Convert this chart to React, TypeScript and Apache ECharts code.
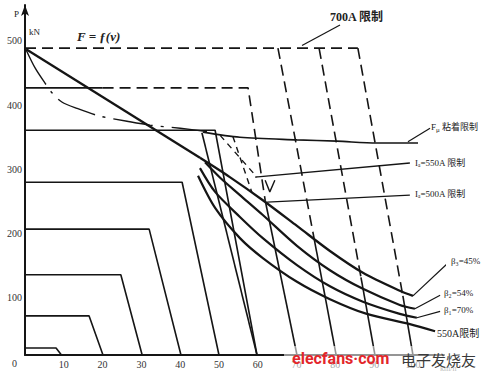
import React, { useEffect, useRef } from "react";
import * as echarts from "echarts";

// axis
const xTickValues = [10, 20, 30, 40, 50, 60, 70, 80, 90, 100];
const yTickValues = [100, 200, 300, 400, 500];

// notch characteristics (v km/h, F kN)
const notch1 = [[0, 11], [8, 11], [9.4, 0]];
const notch2 = [[0, 61], [16.5, 61], [20.1, 0]];
const notch3 = [[0, 125], [24.7, 125], [30.2, 0]];
const notch4 = [[0, 196], [32, 196], [40.2, 0]];
const notch5 = [[0, 269], [40.5, 269], [50, 0]];
const notch6 = [[0, 350], [49, 350], [59.8, 0]];
const notch6b = [[45.6, 346], [59.8, 0]];
const notch7Solid = [[0, 416], [20, 416]];
const notch7Dashed = [[20, 416], [57.5, 416], [61.9, 241]];
const notch7Lower = [[61.9, 241], [70.1, 0]];

// 700A limit
const limit700Top = [[0, 478], [85.8, 478]];
const limit700v80Dashed = [[65.2, 478], [74.5, 182]];
const limit700v80Solid = [[74.5, 182], [80.2, 0]];
const limit700v90Dashed = [[75.8, 478], [86.6, 121]];
const limit700v90Solid = [[86.6, 121], [90.2, 0]];
const limit700v100Dashed = [[85.8, 478], [97.4, 92]];
const limit700v100Solid = [[97.4, 92], [100, 0]];

// F = f(v) envelope and field-weakening curves
const envelope = [[0.3, 476], [45.1, 307]];
const beta3 = [[45.1, 307], [52.8, 277], [61.3, 241], [70.1, 201], [78.6, 162], [87.1, 128], [96.6, 100], [100, 92]];
const beta2 = [[46.4, 300], [50.3, 276], [55.4, 249], [61.3, 218], [70.1, 170], [78.6, 132], [87.1, 103], [96.6, 78], [100.5, 72]];
const beta1 = [[45.1, 291], [49, 254], [55.4, 215], [61.3, 182], [70.1, 140], [78.6, 107], [87.1, 83], [96.6, 64], [101, 58]];
const limit550 = [[44.6, 279], [49, 229], [55.4, 182], [61.3, 151], [70.1, 114], [78.6, 87], [88.1, 64], [99.2, 48], [105.7, 37]];

// adhesion limit
const adhesionDashDot = [[0.3, 475], [2.6, 447], [5.2, 423], [7, 408], [9.5, 394], [13.4, 384], [19.3, 372], [26.3, 364], [32.2, 358], [40, 353], [46.9, 348]];
const adhesionSolid = [[45.9, 347], [55.4, 339], [70.1, 335], [80.4, 333], [90.7, 330], [101.3, 330]];

// current limits
const ia550 = [[59.3, 277], [99.2, 299]];
const ia500 = [[62.4, 238], [99.2, 249]];
const ia550Dashed = [[50.3, 342], [59.8, 277]];
const extraDashed = [[53.6, 340], [58.5, 253]];
const vMark = [[61.9, 272], [63.1, 254], [64.4, 272]];

// leaders
const leader700 = [[71.4, 482], [81.2, 514]];
const leaderAdhesion = [[98.7, 332], [104.4, 353]];
const leaderBeta3 = [[100, 92], [109, 143]];
const leaderBeta2 = [[100.5, 72], [107, 93]];
const leaderBeta1 = [[101, 58], [107, 68]];

const INK = "#151515";
const SERIF = "'Liberation Serif', 'DejaVu Serif', 'Noto Sans CJK SC', serif";
const CJK = "'Liberation Serif', 'Noto Sans CJK SC', serif";

function seg(data: number[][], width: number, dashed: any = "solid", smooth: number | boolean = false) {
  return {
    type: "line",
    data,
    showSymbol: false,
    symbol: "none",
    smooth,
    clip: false,
    silent: true,
    lineStyle: { color: INK, width, type: dashed, cap: "butt" },
    z: 3,
  };
}

const DASH = [11, 6];

export default function App() {
  const ref = useRef<HTMLDivElement>(null);
  useEffect(() => {
    if (!ref.current) return;
    const chart = echarts.init(ref.current, undefined, { renderer: "svg" });
    const txt = (x: number, y: number, text: string, extra: any = {}) => ({
      type: "text",
      x,
      y,
      z: 10,
      style: {
        text,
        fill: "#222",
        fontSize: 9,
        fontFamily: CJK,
        align: "left",
        verticalAlign: "middle",
        ...extra,
      },
    });
    chart.setOption({
      animation: false,
      backgroundColor: "#ffffff",
      grid: { left: 25, right: 52, top: 5, bottom: 23 },
      xAxis: {
        type: "value",
        min: 0,
        max: 108,
        interval: 10,
        axisLine: { lineStyle: { color: INK, width: 2 } },
        axisTick: { show: false },
        splitLine: { show: false },
        axisLabel: {
          margin: 4,
          fontSize: 10,
          fontFamily: SERIF,
          color: "#333",
          formatter: (v: number) => (xTickValues.includes(v) ? String(v) : ""),
        },
      },
      yAxis: {
        type: "value",
        min: 0,
        max: 545,
        interval: 100,
        axisLine: {
          show: true,
          symbol: ["none", "arrow"],
          symbolSize: [6, 11],
          lineStyle: { color: INK, width: 2 },
        },
        axisTick: { show: false },
        splitLine: { show: false },
        axisLabel: {
          margin: 3,
          fontSize: 10,
          fontFamily: SERIF,
          color: "#333",
          verticalAlign: "top",
          padding: [2, 0, 0, 0],
          formatter: (v: number) => (yTickValues.includes(v) ? String(v) : ""),
        },
      },
      series: [
        seg(notch1, 1.6),
        seg(notch2, 1.6),
        seg(notch3, 1.6),
        seg(notch4, 1.6),
        seg(notch5, 1.6),
        seg(notch6, 1.6),
        seg(notch6b, 1.6),
        seg(notch7Solid, 1.6),
        seg(notch7Dashed, 1.6, DASH),
        seg(notch7Lower, 1.6),
        seg(limit700Top, 1.8, DASH),
        seg(limit700v80Dashed, 1.6, DASH),
        seg(limit700v80Solid, 1.6),
        seg(limit700v90Dashed, 1.6, DASH),
        seg(limit700v90Solid, 1.6),
        seg(limit700v100Dashed, 1.6, DASH),
        seg(limit700v100Solid, 1.6),
        seg(envelope, 2.3),
        seg(beta3, 2.3, "solid", 0.3),
        seg(beta2, 2.2, "solid", 0.3),
        seg(beta1, 2.2, "solid", 0.3),
        seg(limit550, 2.2, "solid", 0.3),
        seg(adhesionDashDot, 1.4, [40, 8, 3, 8], 0.3),
        seg(adhesionSolid, 1.6, "solid", 0.3),
        seg(ia550, 1.4),
        seg(ia500, 1.4),
        seg(ia550Dashed, 1.4, [6, 5]),
        seg(extraDashed, 1.4, [6, 5]),
        seg(vMark, 1.4),
        seg(leader700, 1.2),
        seg(leaderAdhesion, 1.2),
        seg(leaderBeta3, 1.2),
        seg(leaderBeta2, 1.2),
        seg(leaderBeta1, 1.2),
      ],
      graphic: [
        txt(14, 14, "P", { fontSize: 9, fontFamily: SERIF }),
        txt(29, 32, "kN", { fontSize: 9, fontFamily: SERIF }),
        txt(12, 363, "0", { fontSize: 10, fontFamily: SERIF, fill: "#333" }),
        txt(77, 36, "F = ƒ(v)", { fontSize: 13, fontStyle: "italic", fontWeight: "bold", fontFamily: SERIF }),
        txt(330, 17, "700A 限制", { fontSize: 12, fontWeight: "bold" }),
        {
          type: "text",
          x: 431,
          y: 127,
          z: 10,
          style: {
            text: "{f|F}{s|μ} 粘着限制",
            fill: "#222",
            fontSize: 9,
            fontFamily: CJK,
            verticalAlign: "middle",
            rich: {
              f: { fontSize: 9, fontFamily: SERIF },
              s: { fontSize: 7, fontFamily: SERIF, padding: [6, 0, 0, 0] },
            },
          },
        },
        txt(415, 163, "Iₐ=550A 限制"),
        txt(415, 194, "Iₐ=500A 限制"),
        txt(451, 261, "β₃=45%"),
        txt(444, 293, "β₂=54%"),
        txt(444, 310, "β₁=70%"),
        txt(437, 333, "550A限制", { fontSize: 10 }),
        txt(440, 368, "km/h", { fontSize: 8, fontFamily: SERIF, fill: "#666" }),
        {
          type: "rect",
          z: 20,
          shape: { x: 284, y: 346, width: 202, height: 26 },
          style: { fill: "rgba(255,255,255,0.55)" },
        },
        {
          type: "text",
          x: 292,
          y: 358,
          z: 21,
          style: {
            text: "elecfans·com",
            fill: "#e3262b",
            fontSize: 16,
            fontWeight: "bold",
            fontFamily: "Roboto, 'Noto Sans', sans-serif",
            verticalAlign: "middle",
          },
        },
        {
          type: "text",
          x: 401,
          y: 359,
          z: 21,
          style: {
            text: "电子发烧友",
            fill: "#3a3a3a",
            fontSize: 15,
            fontFamily: "'Noto Sans CJK SC', sans-serif",
            verticalAlign: "middle",
          },
        },
      ],
    });
    return () => chart.dispose();
  }, []);
  return (
    <div
      ref={ref}
      style={{ position: "absolute", left: 0, top: 0, width: 496, height: 378, background: "#fff" }}
    />
  );
}
